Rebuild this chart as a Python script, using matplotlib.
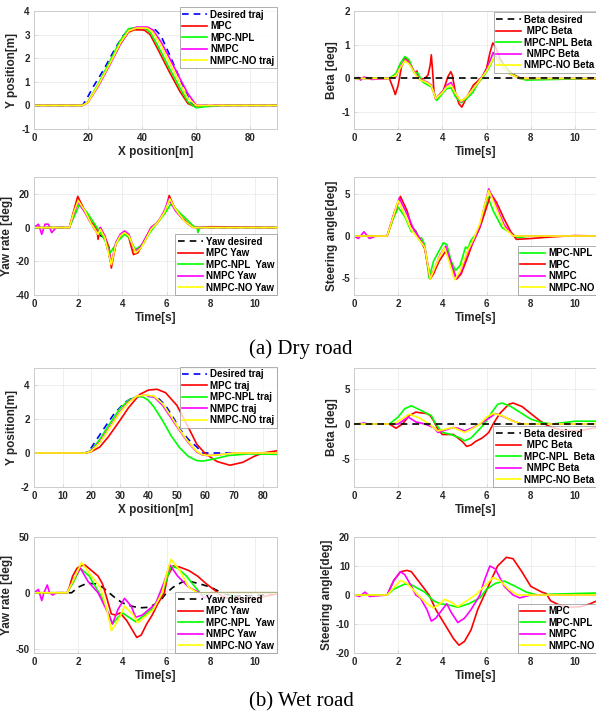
import matplotlib
matplotlib.use("Agg")
import matplotlib.pyplot as plt

# ---------------- (a) Dry road ----------------
# trajectory, Y vs X
dry_des_x = [0, 18, 20, 22, 26, 30, 33, 35, 38, 42, 45, 47, 50, 53, 56, 58, 59.5, 90]
dry_des_y = [0, 0, 0.38, 0.8, 1.55, 2.4, 2.95, 3.2, 3.25, 3.25, 3.2, 2.95, 2.2, 1.4, 0.6, 0.15, 0, 0]
dry_mpc_x = [0, 18, 20, 24, 28, 32, 35, 37, 40, 41, 43, 46, 50, 54, 57, 59, 62, 70, 90]
dry_mpc_y = [0, 0, 0.15, 0.9, 1.75, 2.6, 3.1, 3.2, 3.2, 3.18, 3.0, 2.35, 1.45, 0.6, 0.08, -0.02, -0.02, 0, 0]
dry_npl_x = [0, 18, 20, 24, 28, 32, 35, 38, 41, 43, 46, 50, 54, 57, 60, 63, 70, 90]
dry_npl_y = [0, 0, 0.15, 0.95, 1.85, 2.75, 3.25, 3.3, 3.28, 3.1, 2.5, 1.6, 0.75, 0.15, -0.1, -0.06, 0, 0]
dry_nmpc_x = [0, 18, 20, 24, 28, 32, 35, 38, 42, 44, 47, 50, 54, 57, 60, 65, 90]
dry_nmpc_y = [0, 0, 0.12, 0.85, 1.7, 2.6, 3.15, 3.32, 3.32, 3.2, 2.7, 2.05, 1.15, 0.5, 0.02, 0, 0]
dry_no_x = [0, 18, 20, 24, 28, 32, 35, 38, 42, 44, 47, 50, 54, 57, 60, 90]
dry_no_y = [0, 0, 0.13, 0.9, 1.75, 2.65, 3.15, 3.28, 3.27, 3.1, 2.55, 1.85, 0.95, 0.3, 0, 0]

# beta
dry_beta_des_t = [0, 11]
dry_beta_des = [0, 0]
dry_beta_mpc_t = [0, 1.6, 1.75, 1.87, 2.0, 2.15, 2.33, 2.5, 2.75, 2.85, 2.9, 3.0, 3.2, 3.35, 3.45, 3.5, 3.56,
                  3.62, 3.7, 3.85, 4.05, 4.25, 4.38, 4.45, 4.6, 4.75, 4.88, 5.0, 5.2, 5.4, 5.6, 5.8, 6.0, 6.15,
                  6.28, 6.4, 6.6, 6.9, 7.2, 7.5, 7.8, 11]
dry_beta_mpc = [0, 0, -0.25, -0.48, -0.2, 0.35, 0.62, 0.5, 0.15, 0.22, 0.05, -0.02, 0.0, 0.1, 0.4, 0.7, 0.2,
                -0.4, -0.62, -0.5, -0.35, 0.05, 0.2, 0.1, -0.45, -0.75, -0.85, -0.7, -0.45, -0.2, -0.08, 0.05,
                0.3, 0.75, 1.05, 0.95, 0.6, 0.3, 0.12, 0.02, -0.02, -0.01]
dry_beta_npl_t = [0, 1.6, 1.9, 2.1, 2.3, 2.5, 2.7, 2.9, 3.1, 3.3, 3.5, 3.75, 4.0, 4.2, 4.4, 4.6, 4.85, 5.1,
                  5.4, 5.6, 5.8, 6.1, 6.35, 6.7, 7.1, 7.5, 7.8, 9, 11]
dry_beta_npl = [0, 0, 0.15, 0.45, 0.65, 0.55, 0.2, 0.15, -0.1, -0.18, -0.25, -0.65, -0.45, -0.3, -0.28,
                -0.55, -0.72, -0.6, -0.4, -0.15, 0, 0.3, 0.65, 0.45, 0.15, 0, -0.05, -0.03, 0]
dry_beta_nmpc_t = [0, 0.2, 0.3, 0.45, 0.6, 0.8, 1.6, 1.9, 2.1, 2.3, 2.5, 2.8, 3.0, 3.3, 3.5, 3.7, 4.0, 4.2,
                   4.4, 4.6, 4.85, 5.1, 5.4, 5.7, 6.0, 6.3, 6.6, 7.0, 7.5, 11]
dry_beta_nmpc = [0, 0.03, -0.05, 0.04, 0.02, -0.03, 0, 0.05, 0.35, 0.55, 0.45, 0.12, -0.05, -0.1, -0.2, -0.6,
                 -0.4, -0.2, -0.12, -0.45, -0.7, -0.55, -0.3, -0.05, 0.25, 0.77, 0.45, 0.15, 0, 0]
dry_beta_no_t = [0, 1.6, 1.9, 2.1, 2.3, 2.5, 2.8, 3.0, 3.3, 3.5, 3.7, 4.0, 4.2, 4.4, 4.6, 4.85, 5.1, 5.4,
                 5.7, 6.0, 6.35, 6.7, 7.0, 7.5, 11]
dry_beta_no = [0, 0, 0.08, 0.32, 0.52, 0.42, 0.1, -0.05, -0.12, -0.22, -0.6, -0.42, -0.25, -0.2, -0.45,
               -0.68, -0.55, -0.3, -0.05, 0.22, 0.65, 0.4, 0.15, 0, 0]

# yaw rate (desired is hidden under the other curves in the source figure)
dry_yaw_des_t = [0, 1.6, 1.8, 2.0, 2.3, 2.6, 2.9, 3.2, 3.5, 3.7, 3.9, 4.1, 4.3, 4.6, 4.85, 5.1, 5.3, 5.6,
                 5.9, 6.15, 6.4, 6.8, 7.2, 11]
dry_yaw_des = [0, 0, 9, 16, 10, 2, -4, -6, -22, -10, -5, -3, -5, -15, -12, -6, -1, 3, 9, 17, 11, 4, 0, 0]
dry_yaw_mpc_t = [0, 1.6, 1.8, 1.98, 2.3, 2.6, 2.7, 2.85, 2.9, 3.0, 3.2, 3.4, 3.5, 3.7, 3.9, 4.1, 4.25, 4.5,
                 4.7, 4.9, 5.1, 5.3, 5.5, 5.7, 5.95, 6.12, 6.35, 6.7, 7.1, 7.4, 8, 11]
dry_yaw_mpc = [0, 0, 10, 18.5, 10, 3, 2, -1, -7, 0, -5, -12, -24, -10, -5, -3, -4, -16, -15, -10, -5, 0, 2,
               5, 10, 19, 12, 6, 1, 0, 0.5, 0]
dry_yaw_npl_t = [0, 1.6, 1.8, 2.05, 2.4, 2.7, 2.9, 3.1, 3.3, 3.45, 3.6, 3.8, 4.1, 4.3, 4.5, 4.6, 4.9, 5.1,
                 5.3, 5.6, 5.9, 6.2, 6.5, 6.9, 7.2, 7.38, 7.42, 7.5, 11]
dry_yaw_npl = [0, 0, 6, 13.5, 9, 3, -1, -5, -10, -15, -12, -8, -4, -6, -11, -13, -10, -6, -2, 3, 8, 14, 10,
               5, 1, 0, -3, 0, 0]
dry_yaw_nmpc_t = [0, 0.2, 0.35, 0.5, 0.65, 0.8, 1.0, 1.6, 1.8, 2.0, 2.3, 2.6, 2.9, 3.0, 3.2, 3.5, 3.7, 3.9,
                  4.1, 4.3, 4.55, 4.8, 5.1, 5.3, 5.6, 5.9, 6.1, 6.4, 6.8, 7.2, 11]
dry_yaw_nmpc = [0, 2, -4, 2, 2, -3, 0, 0, 8, 15, 9, 2, -4, 0, -5, -21, -9, -4, -2, -4, -14, -12, -5, 0, 3,
                10, 17, 10, 4, 0, 0]
dry_yaw_no_t = [0, 1.6, 1.8, 2.0, 2.3, 2.6, 2.9, 3.0, 3.2, 3.5, 3.7, 3.9, 4.1, 4.3, 4.6, 4.85, 5.1, 5.3,
                5.6, 5.9, 6.15, 6.4, 6.8, 7.2, 11]
dry_yaw_no = [0, 0, 9, 16, 10, 2, -4, -1, -6, -22, -10, -5, -3, -5, -15, -12, -6, -1, 3, 9, 17, 11, 4, 0, 0]

# steering angle
dry_st_npl_t = [0, 1.5, 1.8, 2.0, 2.3, 2.6, 2.8, 2.95, 3.05, 3.2, 3.4, 3.6, 3.8, 4.05, 4.2, 4.4, 4.6, 4.8,
                5.05, 5.15, 5.3, 5.6, 5.8, 6.05, 6.3, 6.7, 7.2, 7.35, 8, 11]
dry_st_npl = [0, 0, 2.2, 3.4, 2.3, 0.5, 0.6, -0.5, -0.2, -1, -5, -3, -2, -0.8, -1, -3, -4.1, -3.5, -1.3,
              -1.5, -0.5, 0.5, 2, 4.7, 3, 1, 0.2, -0.2, 0, 0]
dry_st_mpc_t = [0, 1.5, 1.8, 2.1, 2.4, 2.6, 2.8, 3.0, 3.2, 3.45, 3.6, 3.85, 4.15, 4.35, 4.65, 4.85, 5.1,
                5.35, 5.7, 5.95, 6.2, 6.45, 6.8, 7.1, 7.35, 8, 9, 10, 11]
dry_st_mpc = [0, 0, 2.5, 4.7, 3, 1.2, 0.5, -0.5, -1.5, -5.1, -4.5, -3, -1.8, -3, -5.1, -4.5, -2.8, -1, 1,
              3, 5, 4, 2, 0.5, -0.4, -0.3, -0.1, 0.05, 0]
dry_st_nmpc_t = [0, 0.2, 0.45, 0.7, 1.0, 1.5, 1.8, 2.05, 2.4, 2.7, 3.0, 3.2, 3.45, 3.7, 3.9, 4.15, 4.35,
                 4.6, 4.85, 5.1, 5.4, 5.7, 5.9, 6.1, 6.4, 6.8, 7.2, 11]
dry_st_nmpc = [0, -0.3, 0.5, -0.3, 0, 0, 2.6, 4.5, 2.6, 0.8, -0.4, -1.3, -5, -3.5, -2.2, -1.2, -2.8, -5.1,
               -4.2, -2.2, -0.6, 1.2, 3.5, 5.6, 3.8, 1.3, 0, 0]
dry_st_no_t = [0, 1.5, 1.8, 2.0, 2.3, 2.6, 2.9, 3.2, 3.45, 3.7, 3.9, 4.1, 4.3, 4.55, 4.8, 5.1, 5.4, 5.7,
               5.9, 6.1, 6.4, 6.8, 7.2, 11]
dry_st_no = [0, 0, 2.5, 4.2, 2.5, 0.7, -0.3, -1.3, -5.1, -3.5, -2.3, -1.4, -3, -5.2, -4.2, -2, -0.4, 1.5,
             3.5, 5.4, 3.5, 1, 0, 0]

# ---------------- (b) Wet road ----------------
wet_des_x = [0, 18, 20, 24.3, 28, 32, 35, 38, 43, 46, 49, 51, 54, 57, 59, 70]
wet_des_y = [0, 0, 0.3, 1.4, 2.3, 3.0, 3.3, 3.35, 3.3, 2.8, 2.0, 1.4, 0.8, 0.35, 0, 0]
wet_mpc_x = [0, 18, 20, 23, 26, 30, 33, 37, 40, 43, 46, 50, 54, 57, 60, 64, 68.5, 73, 77, 80, 85]
wet_mpc_y = [0, 0, 0.08, 0.35, 0.95, 1.9, 2.65, 3.45, 3.7, 3.75, 3.55, 2.8, 1.5, 0.5, -0.05, -0.5, -0.72,
             -0.55, -0.2, 0.0, 0.13]
wet_npl_x = [0, 18, 20, 23, 26, 30, 33, 36, 38, 40, 42, 45, 48, 51, 54, 57, 59, 63, 68, 75, 85]
wet_npl_y = [0, 0, 0.15, 0.8, 1.6, 2.6, 3.1, 3.32, 3.3, 3.1, 2.7, 1.9, 1.0, 0.3, -0.2, -0.45, -0.48, -0.35,
             -0.15, -0.05, -0.08]
wet_nmpc_x = [0, 18, 20, 23, 26, 30, 33, 36, 39, 42, 45, 48, 51, 54, 57, 59, 61, 65, 70, 85]
wet_nmpc_y = [0, 0, 0.12, 0.65, 1.4, 2.4, 3.0, 3.35, 3.4, 3.3, 2.8, 2.05, 1.3, 0.6, 0.05, -0.12, -0.15,
              -0.1, 0, 0]
wet_no_x = [0, 18, 20, 23, 26, 30, 33, 36, 39, 42, 45, 48, 51, 54, 57, 59, 61, 65, 70, 85]
wet_no_y = [0, 0, 0.1, 0.6, 1.35, 2.35, 2.95, 3.35, 3.4, 3.35, 2.9, 2.15, 1.35, 0.65, 0.08, -0.1, -0.15,
            -0.1, 0, 0]

wet_beta_des_t = [0, 11]
wet_beta_des = [0, 0]
wet_beta_mpc_t = [0, 1.6, 1.9, 2.2, 2.5, 2.8, 3.0, 3.3, 3.45, 3.6, 3.8, 4.0, 4.5, 4.9, 5.1, 5.3, 5.5, 5.8,
                  6.0, 6.1, 6.3, 6.6, 7.0, 7.2, 7.6, 8.0, 8.4, 8.8, 9.3, 9.8, 10.3, 10.8, 11]
wet_beta_mpc = [0, 0, -0.6, 0, 1.2, 1.7, 1.6, 1.5, 1.2, 0.5, -0.8, -1.5, -1.5, -2.5, -3.2, -3.0, -2.5, -2,
                -1.5, -1.2, 0, 1.5, 2.8, 3.0, 2.5, 1.5, 0.5, -0.3, -0.8, -1.0, -0.9, -0.6, -0.5]
wet_beta_npl_t = [0, 1.6, 2.0, 2.3, 2.6, 3.0, 3.3, 3.5, 3.7, 4.0, 4.4, 4.8, 5.0, 5.3, 5.6, 5.9, 6.2, 6.5,
                  6.7, 7.1, 7.6, 8.0, 8.5, 9.0, 9.5, 10, 11]
wet_beta_npl = [0, 0, 1.0, 2.2, 2.6, 2.0, 1.5, 1.2, 0, -1.2, -1.5, -2.0, -2.4, -2.0, -1.0, 0, 1.5, 2.8,
                3.0, 2.5, 1.5, 0.7, 0.2, 0, 0.2, 0.4, 0.4]
wet_beta_nmpc_t = [0, 0.3, 0.45, 0.6, 2.0, 2.45, 2.8, 3.2, 3.6, 3.8, 4.2, 4.5, 4.7, 5.0, 5.4, 5.7, 6.1,
                   6.4, 6.8, 7.3, 7.6, 11]
wet_beta_nmpc = [0, 0.05, 0.15, 0, 0, 1.0, 0.3, 0, -0.5, -1.2, -0.8, -0.5, -0.6, -1.0, -0.5, 0, 0.8, 1.5,
                 1.0, 0.3, 0, 0]
wet_beta_no_t = [0, 1.8, 2.1, 2.5, 3.0, 3.4, 3.8, 4.2, 4.5, 5.0, 5.4, 5.7, 6.0, 6.3, 6.7, 7.2, 7.6, 11]
wet_beta_no = [0, 0, 0.6, 1.4, 0.8, 0, -1.0, -0.7, -0.5, -1.2, -0.6, 0, 1.0, 1.5, 1.2, 0.4, 0, 0]

wet_yaw_des_t = [0, 1.7, 2.0, 2.4, 2.8, 3.1, 3.4, 3.7, 4.0, 4.4, 4.8, 5.2, 5.5, 5.8, 6.0, 6.3, 6.7, 7.0,
                 7.5, 8.0, 8.5, 9.0, 10, 11]
wet_yaw_des = [0, 0, 5, 8.5, 8, 5, 0, -5, -9, -12, -13.5, -13, -10, -5, 0, 5, 9.5, 10.5, 8, 5, 0, -3, -2.5, -1]
wet_yaw_mpc_t = [0, 1.5, 1.6, 1.75, 1.95, 2.1, 2.3, 2.6, 2.9, 3.1, 3.3, 3.5, 3.7, 3.9, 4.2, 4.5, 4.65, 4.85,
                 5.1, 5.35, 5.6, 5.9, 6.05, 6.3, 6.6, 7.0, 7.4, 7.8, 8.2, 8.5, 8.8, 9.5, 10, 10.5, 11]
wet_yaw_mpc = [0, 0, 5, 15, 22, 24, 25, 20, 15, 8, -5, -19, -20, -18, -25, -35, -40, -38, -28, -20, -10, 0,
               15, 24, 23, 20, 15, 8, 2, -3, -5, -5, -5, -3, -1]
wet_yaw_npl_t = [0, 1.5, 1.8, 2.1, 2.5, 2.7, 3.1, 3.3, 3.55, 3.8, 4.0, 4.3, 4.6, 5.0, 5.3, 5.5, 5.8, 6.05,
                 6.2, 6.5, 6.9, 7.3, 7.6, 8.0, 8.85, 8.9, 8.95, 11]
wet_yaw_npl = [0, 0, 10, 22, 15, 8, -5, -15, -28, -22, -18, -22, -26, -20, -15, -10, 0, 15, 24, 22, 15, 5,
               -2, 0, 0, -5, 0, 0]
wet_yaw_nmpc_t = [0, 0.2, 0.35, 0.45, 0.6, 0.7, 0.85, 1.0, 1.5, 1.8, 2.1, 2.45, 2.9, 3.1, 3.4, 3.55, 3.8,
                  4.1, 4.4, 4.6, 4.9, 5.2, 5.5, 5.7, 5.9, 6.15, 6.5, 7.0, 7.5, 7.7, 8.0, 11]
wet_yaw_nmpc = [0, 3, -7, 0, 7, 0, -2, 0, 0, 12, 22, 10, 0, -8, -20, -28, -15, -5, -12, -22, -20, -15, -10,
                0, 10, 25, 15, 5, 0, -5, 0, 0]
wet_yaw_no_t = [0, 1.5, 1.8, 2.15, 2.6, 3.0, 3.3, 3.5, 3.8, 4.1, 4.5, 4.7, 5.0, 5.4, 5.8, 6.05, 6.2, 6.6,
                7.0, 7.4, 11]
wet_yaw_no = [0, 0, 12, 27, 15, 5, -15, -34, -25, -12, -20, -27, -22, -15, 0, 20, 30, 20, 5, 0, 0]

wet_st_mpc_t = [0, 1.5, 1.8, 2.1, 2.4, 2.6, 2.9, 3.2, 3.4, 3.7, 4.1, 4.5, 4.75, 5.0, 5.3, 5.6, 5.9, 6.2,
                6.5, 6.9, 7.2, 7.6, 8.0, 8.5, 8.7, 8.9, 9.3, 9.8, 10.3, 10.7, 11]
wet_st_mpc = [0, 0, 5, 8, 8.5, 8, 5, 2, 0, -5, -10, -15, -17.3, -16, -12, -5, 0, 5, 10, 13, 12.5, 8, 3, 1,
              0.5, -2, -3.5, -4.2, -4, -3, -2]
wet_st_npl_t = [0, 1.5, 1.8, 2.3, 2.6, 3.2, 3.6, 3.9, 4.3, 4.7, 5.2, 5.7, 6.0, 6.4, 6.8, 7.3, 7.8, 8.3, 9,
                10, 11]
wet_st_npl = [0, 0, 2, 3.8, 3.5, 1, -2, -3, -3.5, -4.2, -3, -1, 2, 4, 4.8, 3, 1, 0, 0.3, 0.5, 0.7]
wet_st_nmpc_t = [0, 0.25, 0.5, 0.7, 1.5, 1.8, 2.1, 2.3, 2.6, 2.8, 3.0, 3.3, 3.5, 3.7, 4.0, 4.2, 4.4, 4.7,
                 5.0, 5.3, 5.7, 5.9, 6.15, 6.4, 6.8, 7.2, 7.5, 8.0, 11]
wet_st_nmpc = [0, -0.5, 1, -0.5, 0, 5, 8, 7, 3, 0, -1, -5, -9, -8, -5, -3, -6, -9.5, -8, -5, 0, 5, 10, 9, 3,
               0, -1, 0, 0]
wet_st_no_t = [0, 1.5, 1.8, 2.1, 2.4, 2.9, 3.3, 3.6, 3.9, 4.1, 4.4, 4.7, 5.1, 5.5, 5.9, 6.3, 6.6, 7.0, 7.4,
               11]
wet_st_no = [0, 0, 2.5, 5, 4, 0, -3, -4.5, -3, -1.5, -2.5, -4, -2, 0, 3, 6, 5, 2, 0, 0]

RED, GREEN, MAG, YEL = "#ff0000", "#00ff00", "#ff00ff", "#ffff00"
LW = 1.2
TICKFONT = dict(family="Liberation Sans", weight="bold", size=7)
LABELFONT = dict(family="Liberation Sans", weight="bold", size=8.5)

fig = plt.figure(figsize=(5.96, 7.18), dpi=100)

W, H = 596.0, 718.0


def make_axes(x0, x1, top, bottom):
    ax = fig.add_axes([x0 / W, 1 - bottom / H, (x1 - x0) / W, (bottom - top) / H])
    ax.grid(True, color="#ebebeb", linewidth=0.6)
    ax.set_axisbelow(True)
    for s in ax.spines.values():
        s.set_color("#cccccc")
        s.set_linewidth(0.7)
    ax.tick_params(direction="in", length=2, width=0.5, color="#cccccc", pad=3,
                   labelcolor="#262626")
    return ax


def finish(ax, xlim, ylim, xticks, yticks, xlabel, ylabel):
    ax.set_xlim(*xlim)
    ax.set_ylim(*ylim)
    ax.set_xticks(xticks)
    ax.set_yticks(yticks)
    ax.set_xticklabels([str(v) for v in xticks], fontdict=TICKFONT)
    ax.set_yticklabels([str(v) for v in yticks], fontdict=TICKFONT)
    if xlabel:
        ax.set_xlabel(xlabel, fontdict=LABELFONT, labelpad=2, color="#262626")
    ax.set_ylabel(ylabel, fontdict=LABELFONT, labelpad=2, color="#262626")


def legend(ax, loc, anchor):
    lg = ax.legend(loc=loc, bbox_to_anchor=anchor, frameon=True, fancybox=False,
                   borderpad=0.25, labelspacing=0.15, handlelength=2.6, handletextpad=0.3,
                   borderaxespad=0.0, prop=dict(family="Liberation Sans", weight="bold", size=7))
    lg.get_frame().set_edgecolor("#9a9a9a")
    lg.get_frame().set_linewidth(0.7)
    return lg


LX0, LX1 = 34, 277
RX0, RX1 = 354, 597

# ---- row 1
ax = make_axes(LX0, LX1, 11, 129)
ax.plot(dry_des_x, dry_des_y, "--", color="#0000ff", lw=LW, dashes=(4, 3), label="Desired traj", zorder=1.5)
ax.plot(dry_mpc_x, dry_mpc_y, color=RED, lw=LW, label="MPC")
ax.plot(dry_npl_x, dry_npl_y, color=GREEN, lw=LW, label="MPC-NPL")
ax.plot(dry_nmpc_x, dry_nmpc_y, color=MAG, lw=LW, label="NMPC")
ax.plot(dry_no_x, dry_no_y, color=YEL, lw=LW, label="NMPC-NO traj")
finish(ax, (0, 90), (-1, 4), [0, 20, 40, 60, 80], [-1, 0, 1, 2, 3, 4], "X position[m]", "Y position[m]")
legend(ax, "upper right", (1.0, 1.03))

ax = make_axes(RX0, RX1, 11, 129)
ax.plot(dry_beta_des_t, dry_beta_des, "--", color="k", lw=LW, dashes=(4, 3), label="Beta desired", zorder=6)
ax.plot(dry_beta_mpc_t, dry_beta_mpc, color=RED, lw=LW, label=" MPC Beta")
ax.plot(dry_beta_npl_t, dry_beta_npl, color=GREEN, lw=LW, label="MPC-NPL Beta")
ax.plot(dry_beta_nmpc_t, dry_beta_nmpc, color=MAG, lw=LW, label=" NMPC Beta")
ax.plot(dry_beta_no_t, dry_beta_no, color=YEL, lw=LW, label="NMPC-NO Beta")
finish(ax, (0, 11), (-1.5, 2), [0, 2, 4, 6, 8, 10], [-1, 0, 1, 2], "Time[s]", "Beta [deg]")
legend(ax, "upper right", (1.0, 0.99))

# ---- row 2
ax = make_axes(LX0, LX1, 177, 295)
ax.plot(dry_yaw_des_t, dry_yaw_des, "--", color="k", lw=LW, dashes=(4, 3), label="Yaw desired", zorder=1)
ax.plot(dry_yaw_mpc_t, dry_yaw_mpc, color=RED, lw=LW, label="MPC Yaw")
ax.plot(dry_yaw_npl_t, dry_yaw_npl, color=GREEN, lw=LW, label="MPC-NPL  Yaw")
ax.plot(dry_yaw_nmpc_t, dry_yaw_nmpc, color=MAG, lw=LW, label="NMPC Yaw")
ax.plot(dry_yaw_no_t, dry_yaw_no, color=YEL, lw=LW, label="NMPC-NO Yaw")
finish(ax, (0, 11), (-40, 30), [0, 2, 4, 6, 8, 10], [-40, -20, 0, 20], "Time[s]", "Yaw rate [deg]")
legend(ax, "lower right", (1.0, 0.0))

ax = make_axes(RX0, RX1, 177, 295)
ax.plot(dry_st_npl_t, dry_st_npl, color=GREEN, lw=LW, label="MPC-NPL")
ax.plot(dry_st_mpc_t, dry_st_mpc, color=RED, lw=LW, label="MPC")
ax.plot(dry_st_nmpc_t, dry_st_nmpc, color=MAG, lw=LW, label="NMPC")
ax.plot(dry_st_no_t, dry_st_no, color=YEL, lw=LW, label="NMPC-NO")
finish(ax, (0, 11), (-7, 7), [0, 2, 4, 6, 8, 10], [-5, 0, 5], "Time[s]", "Steering angle[deg]")
legend(ax, "lower right", (1.0, 0.0))

fig.text(0.505, 1 - 349 / H, "(a) Dry road", ha="center", va="center",
         family="Liberation Serif", size=15)

# ---- row 3
ax = make_axes(LX0, LX1, 368, 487)
ax.plot(wet_des_x, wet_des_y, "--", color="#0000ff", lw=LW, dashes=(4, 3), label="Desired traj", zorder=1)
ax.plot(wet_mpc_x, wet_mpc_y, color=RED, lw=LW, label="MPC traj")
ax.plot(wet_npl_x, wet_npl_y, color=GREEN, lw=LW, label="MPC-NPL traj")
ax.plot(wet_nmpc_x, wet_nmpc_y, color=MAG, lw=LW, label="NMPC traj")
ax.plot(wet_no_x, wet_no_y, color=YEL, lw=LW, label="NMPC-NO traj")
finish(ax, (0, 85), (-2, 5), [0, 10, 20, 30, 40, 50, 60, 70, 80], [-2, 0, 2, 4], "X position[m]",
       "Y position[m]")
legend(ax, "upper right", (1.0, 1.01))

ax = make_axes(RX0, RX1, 368, 487)
ax.plot(wet_beta_des_t, wet_beta_des, "--", color="k", lw=LW, dashes=(4, 3), label="Beta desired", zorder=6)
ax.plot(wet_beta_mpc_t, wet_beta_mpc, color=RED, lw=LW, label=" MPC Beta")
ax.plot(wet_beta_npl_t, wet_beta_npl, color=GREEN, lw=LW, label="MPC-NPL  Beta")
ax.plot(wet_beta_nmpc_t, wet_beta_nmpc, color=MAG, lw=LW, label=" NMPC Beta")
ax.plot(wet_beta_no_t, wet_beta_no, color=YEL, lw=LW, label="NMPC-NO Beta")
finish(ax, (0, 11), (-9, 8), [0, 2, 4, 6, 8, 10], [-5, 0, 5], "Time[s]", "Beta [deg]")
legend(ax, "lower right", (1.0, 0.0))

# ---- row 4
ax = make_axes(LX0, LX1, 537, 653)
ax.plot(wet_yaw_des_t, wet_yaw_des, "--", color="k", lw=LW, dashes=(4, 3), label="Yaw desired", zorder=1)
ax.plot(wet_yaw_mpc_t, wet_yaw_mpc, color=RED, lw=LW, label="MPC Yaw")
ax.plot(wet_yaw_npl_t, wet_yaw_npl, color=GREEN, lw=LW, label="MPC-NPL  Yaw")
ax.plot(wet_yaw_nmpc_t, wet_yaw_nmpc, color=MAG, lw=LW, label="NMPC Yaw")
ax.plot(wet_yaw_no_t, wet_yaw_no, color=YEL, lw=LW, label="NMPC-NO Yaw")
finish(ax, (0, 11), (-54, 50), [0, 2, 4, 6, 8, 10], [-50, 0, 50], "Time[s]", "Yaw rate [deg]")
legend(ax, "lower right", (1.0, 0.0))

ax = make_axes(RX0, RX1, 537, 653)
ax.plot(wet_st_mpc_t, wet_st_mpc, color=RED, lw=LW, label="MPC")
ax.plot(wet_st_npl_t, wet_st_npl, color=GREEN, lw=LW, label="MPC-NPL")
ax.plot(wet_st_nmpc_t, wet_st_nmpc, color=MAG, lw=LW, label="NMPC")
ax.plot(wet_st_no_t, wet_st_no, color=YEL, lw=LW, label="NMPC-NO")
finish(ax, (0, 11), (-20, 20), [0, 2, 4, 6, 8, 10], [-20, -10, 0, 10, 20], "Time[s]", "Steering angle[deg]")
legend(ax, "lower right", (1.0, 0.0))

fig.text(0.505, 1 - 702 / H, "(b) Wet road", ha="center", va="center",
         family="Liberation Serif", size=15)

fig.savefig("out.png", dpi=100)
